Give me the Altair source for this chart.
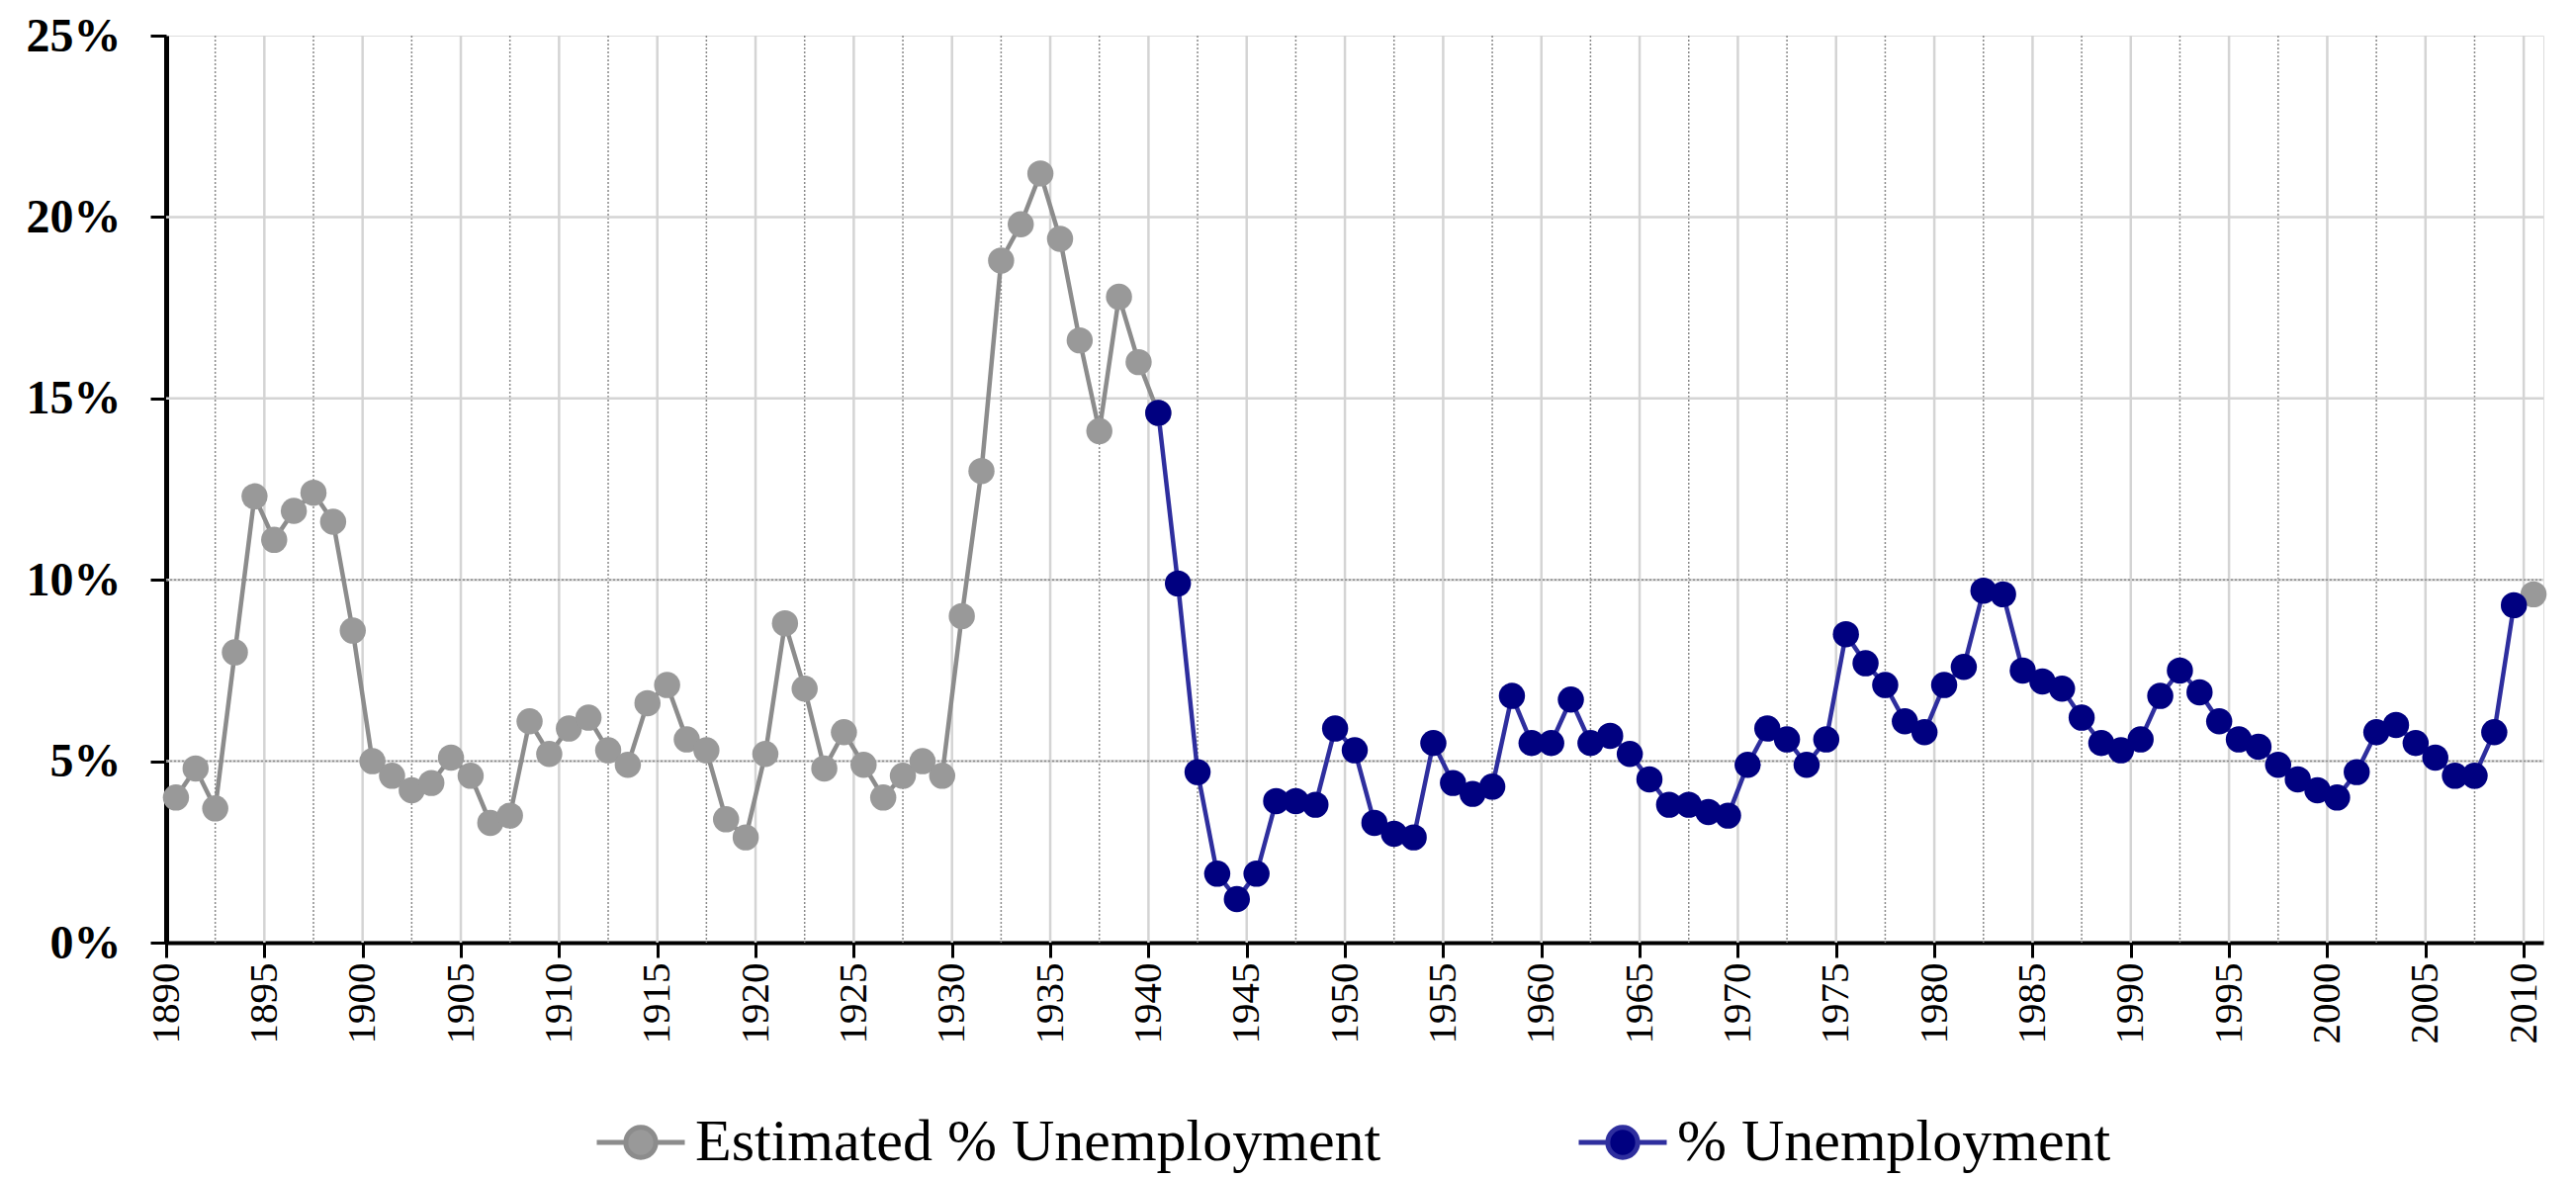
import altair as alt
import pandas as pd
import numpy as np

# ---- data ----
est_name = "Estimated % Unemployment"
act_name = "% Unemployment"

est_years = list(range(1890, 1941)) + [2010]
est_values = [4.0, 4.8, 3.7, 8.0, 12.3, 11.1, 11.9, 12.4, 11.6, 8.6,
              5.0, 4.6, 4.2, 4.4, 5.1, 4.6, 3.3, 3.5, 6.1, 5.2,
              5.9, 6.2, 5.3, 4.9, 6.6, 7.1, 5.6, 5.3, 3.4, 2.9,
              5.2, 8.8, 7.0, 4.8, 5.8, 4.9, 4.0, 4.6, 5.0, 4.6,
              9.0, 13.0, 18.8, 19.8, 21.2, 19.4, 16.6, 14.1, 17.8, 16.0,
              14.6, 9.6]

act_years = list(range(1940, 2010))
act_values = [14.6, 9.9, 4.7, 1.9, 1.2, 1.9, 3.9, 3.9, 3.8, 5.9,
              5.3, 3.3, 3.0, 2.9, 5.5, 4.4, 4.1, 4.3, 6.8, 5.5,
              5.5, 6.7, 5.5, 5.7, 5.2, 4.5, 3.8, 3.8, 3.6, 3.5,
              4.9, 5.9, 5.6, 4.9, 5.6, 8.5, 7.7, 7.1, 6.1, 5.8,
              7.1, 7.6, 9.7, 9.6, 7.5, 7.2, 7.0, 6.2, 5.5, 5.3,
              5.6, 6.8, 7.5, 6.9, 6.1, 5.6, 5.4, 4.9, 4.5, 4.2,
              4.0, 4.7, 5.8, 6.0, 5.5, 5.1, 4.6, 4.6, 5.8, 9.3]

x_tick_years = list(range(1890, 2011, 5))
y_tick_values = [0, 5, 10, 15, 20, 25]

series_order = [est_name, act_name]
fill_colors = ["#999999", "#000080"]
stroke_colors = ["#8c8c8c", "#2e2e9e"]

est_df = pd.DataFrame({"year": est_years, "value": est_values, "series": est_name})
est_df["seg"] = np.where(est_df["year"] <= 1940, "est_a", "est_b")
act_df = pd.DataFrame({"year": act_years, "value": act_values, "series": act_name})
act_df["seg"] = "act"
df = pd.concat([est_df, act_df], ignore_index=True)

# gridline positions (style elements)
solid_v = pd.DataFrame({"gx": [y for y in x_tick_years[1:]]})
dotted_v = pd.DataFrame({"gx": [y + 2.5 for y in x_tick_years[:-1]]})
solid_h = pd.DataFrame({"gy": [5, 10, 15, 20]})
dotted_h = pd.DataFrame({"gy": [5, 10]})

W, H = 2404, 917

x_scale = alt.Scale(domain=[1890, 2011], nice=False, zero=False)
y_scale = alt.Scale(domain=[0, 25], nice=False)

legend_path = ("M-1,0L-0.34,0M0.34,0L1,0"
               "M-0.34,0A0.34,0.34,0,1,1,0.34,0A0.34,0.34,0,1,1,-0.34,0Z")

legend = alt.Legend(title=None, orient="none", legendX=433, legendY=1072,
                    direction="horizontal", columns=2, columnPadding=189,
                    symbolType=legend_path, symbolSize=7921, symbolStrokeWidth=5,
                    labelFont="Liberation Serif", labelFontSize=60, labelColor="black",
                    labelOffset=8, labelLimit=2000, padding=0)

base = alt.Chart(df).transform_calculate(xpos="datum.year + 0.5")

x_enc = alt.X("xpos:Q", scale=x_scale,
              axis=alt.Axis(values=x_tick_years, format="d", labelAngle=270,
                            labelFont="Liberation Serif", labelFontSize=41,
                            labelColor="black", labelPadding=5, tickSize=15,
                            tickWidth=3, tickColor="black", domainColor="black",
                            domainWidth=4, grid=False, title=None,
                            labelOverlap=False))
y_enc = alt.Y("value:Q", scale=y_scale,
              axis=alt.Axis(values=y_tick_values, labelExpr="datum.value + '%'",
                            labelFont="Liberation Serif", labelFontSize=48,
                            labelFontWeight="bold", labelColor="black",
                            labelPadding=30, labelOffset=1, tickSize=16, tickWidth=3,
                            tickColor="black", domainColor="black", domainWidth=5,
                            grid=False, title=None))

lines = base.mark_line(strokeWidth=4.5).encode(
    x=x_enc, y=y_enc,
    stroke=alt.Stroke("series:N", scale=alt.Scale(domain=series_order, range=stroke_colors),
                      legend=legend),
    detail="seg:N",
)
points = base.mark_point(filled=True, size=700, opacity=1, shape="circle").encode(
    x=x_enc, y=y_enc,
    fill=alt.Fill("series:N", scale=alt.Scale(domain=series_order, range=fill_colors),
                  legend=legend),
)

def vrules(data, dash, color, width):
    kw = dict(color=color, strokeWidth=width)
    if dash:
        kw["strokeDash"] = dash
    return alt.Chart(data).mark_rule(**kw).encode(
        x=alt.X("gx:Q", scale=x_scale), y=alt.value(0), y2=alt.value(H))

def hrules(data, dash, color, width):
    kw = dict(color=color, strokeWidth=width)
    if dash:
        kw["strokeDash"] = dash
    return alt.Chart(data).mark_rule(**kw).encode(
        y=alt.Y("gy:Q", scale=y_scale), x=alt.value(0), x2=alt.value(W))

grid = (vrules(solid_v, None, "#d4d4d4", 2.5) + vrules(dotted_v, [2, 2], "#8a8a8a", 1.5)
        + hrules(solid_h, None, "#d4d4d4", 2.5) + hrules(dotted_h, [2, 2], "#8a8a8a", 1.5))

chart = alt.layer(grid, lines, points).properties(
    width=W, height=H,
    autosize=alt.AutoSizeParams(type="none"),
    padding={"left": 160, "top": 28, "right": 25, "bottom": 237},
).configure_view(stroke="black", strokeWidth=3).configure(background="white")

chart.save("out.html", embed_options={"renderer": "svg", "actions": False})
